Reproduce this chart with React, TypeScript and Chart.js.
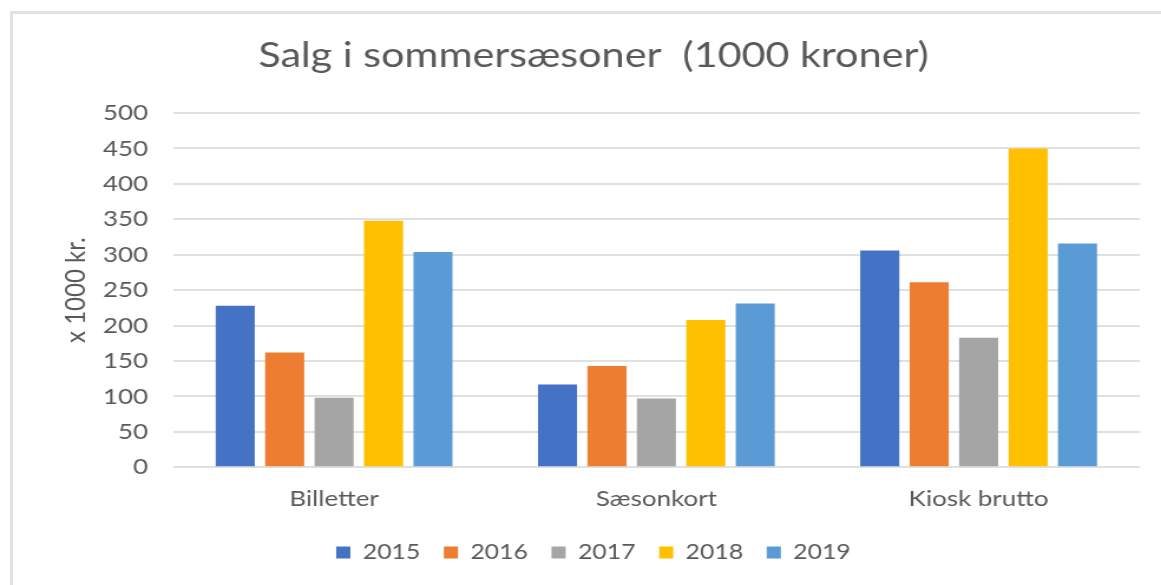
import React, { useEffect, useRef } from "react";
import { Chart, registerables } from "chart.js";

Chart.register(...registerables);

const categories = ["Billetter", "Sæsonkort", "Kiosk brutto"];
const seriesLabels = ["2015", "2016", "2017", "2018", "2019"];
const values2015 = [228, 117, 306];
const values2016 = [162, 143, 261];
const values2017 = [98, 97, 183];
const values2018 = [348, 208, 450];
const values2019 = [304, 231, 316];
const seriesColors = ["#4472C4", "#ED7D31", "#A5A5A5", "#FFC000", "#5B9BD5"];
const titleText = "Salg i sommersæsoner  (1000 kroner)";
const yAxisTitle = "x 1000 kr.";
const yMin = 0;
const yMax = 500;
const yStep = 50;

// horizontal stretch of the drawing (reference is stretched horizontally)
const STRETCH = 1.18;
const PAGE_W = 1161;
const PAGE_H = 585;
const CANVAS_W = Math.round(PAGE_W / STRETCH);

const FONT = "Lato, 'Open Sans', sans-serif";
const TEXT = "#595959";

export default function App() {
  const ref = useRef<HTMLCanvasElement | null>(null);

  useEffect(() => {
    if (!ref.current) return;
    const allValues = [values2015, values2016, values2017, values2018, values2019];
    const chart = new Chart(ref.current, {
      type: "bar",
      data: {
        labels: categories,
        datasets: seriesLabels.map((label, i) => ({
          label,
          data: allValues[i],
          backgroundColor: seriesColors[i],
          borderWidth: 0,
          categoryPercentage: 0.767,
          barPercentage: 0.79,
        })),
      },
      options: {
        animation: false,
        responsive: false,
        devicePixelRatio: 1,
        layout: { padding: { left: 40, right: 18, top: 0, bottom: 12 } },
        plugins: {
          title: {
            display: true,
            text: titleText,
            color: TEXT,
            font: { family: FONT, size: 35, weight: "normal" },
            padding: { top: 35, bottom: 36 },
          },
          legend: {
            display: true,
            position: "bottom",
            labels: {
              color: TEXT,
              font: { family: FONT, size: 21 },
              boxWidth: 12,
              boxHeight: 12,
              padding: 20,
            },
          },
          tooltip: { enabled: false },
        },
        scales: {
          x: {
            grid: { display: false, drawTicks: false },
            border: { display: false },
            ticks: {
              color: TEXT,
              font: { family: FONT, size: 22 },
              padding: 18,
              maxRotation: 0,
            },
            afterFit: (scale: any) => {
              scale.height = 54.7;
            },
          },
          y: {
            min: yMin,
            max: yMax,
            grid: { color: "#e0e0e0", lineWidth: 2, drawTicks: false },
            border: { display: false },
            ticks: {
              stepSize: yStep,
              color: TEXT,
              font: { family: FONT, size: 22 },
              padding: 21,
            },
            title: {
              display: true,
              text: yAxisTitle,
              color: TEXT,
              font: { family: FONT, size: 24 },
              padding: { top: 9.5, bottom: 0 },
            },
            afterFit: (scale: any) => {
              scale.width = 106.6;
            },
          },
        },
      },
    });
    return () => chart.destroy();
  }, []);

  return (
    <div
      style={{
        position: "fixed",
        left: 0,
        top: 0,
        width: PAGE_W,
        height: PAGE_H,
        overflow: "hidden",
        background: "#ffffff",
      }}
    >
      <div
        style={{
          position: "absolute",
          left: 10,
          top: 11,
          width: 1300,
          height: 800,
          border: "3px solid #e2e2e2",
        }}
      />
      <canvas
        ref={ref}
        width={CANVAS_W}
        height={PAGE_H}
        style={{
          position: "absolute",
          left: 0,
          top: 0,
          width: PAGE_W + "px",
          height: PAGE_H + "px",
        }}
      />
    </div>
  );
}
